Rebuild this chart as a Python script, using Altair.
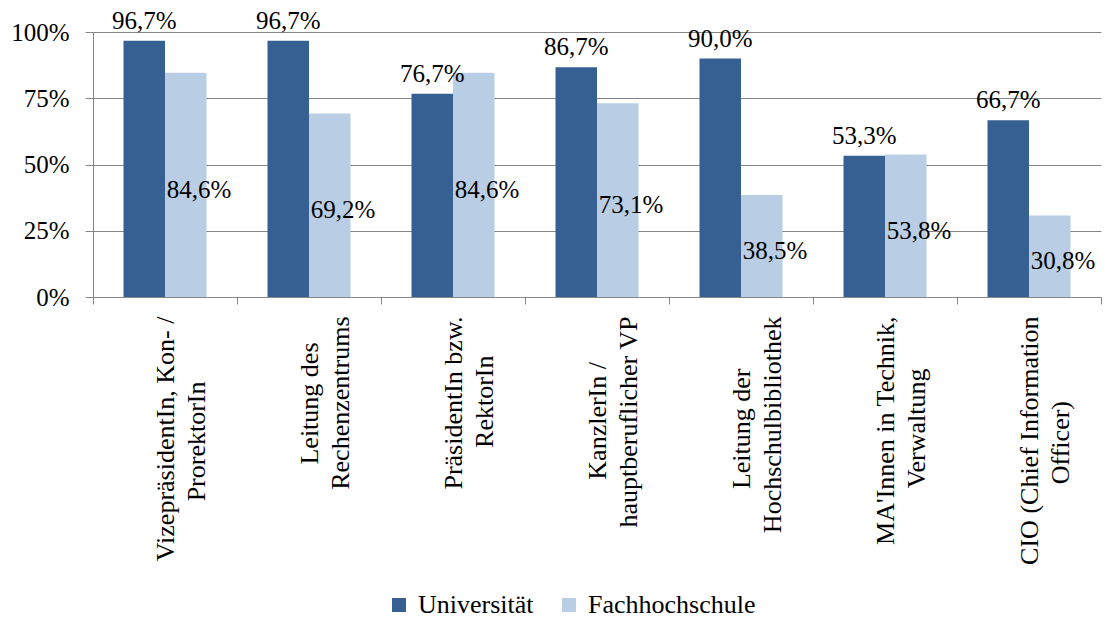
import altair as alt
import pandas as pd

NB = "\u00a0"
ZW = "\u200b"  # keeps the trailing non-breaking spaces from being trimmed
FONT = "Liberation Serif"

label_line1 = ["VizepräsidentIn, Kon- /", "Leitung des", "PräsidentIn bzw.", "KanzlerIn /",
               "Leitung der", "MA'Innen in Technik,", "CIO (Chief Information"]
label_line2 = ["ProrektorIn", "Rechenzentrums", "RektorIn", "hauptberuflicher VP",
               "Hochschulbibliothek", "Verwaltung", "Officer)"]
# non-breaking spaces so that the shorter line sits centred under the longer one
pad_line1 = [0, 4, 0, 7, 8, 0, 0]
pad_line2 = [10, 0, 6, 0, 0, 8, 13]

series = ["Universität", "Fachhochschule"]
universitaet = [96.7, 96.7, 76.7, 86.7, 90.0, 53.3, 66.7]
fachhochschule = [84.6, 69.2, 84.6, 73.1, 38.5, 53.8, 30.8]
colors = ["#376092", "#B9CDE5"]


def padded(text, n):
    return text + (NB * n + ZW if n else "")


categories = [padded(a, p1) + "\n" + padded(b, p2)
              for a, b, p1, p2 in zip(label_line1, label_line2, pad_line1, pad_line2)]

rows = []
for s, vals in zip(series, [universitaet, fachhochschule]):
    for c, v in zip(categories, vals):
        rows.append({"cat": c, "series": s, "value": v / 100, "half": v / 200,
                     "label": f"{v:.1f}".replace(".", ",") + "%"})
df = pd.DataFrame(rows)

grey = "#868686"

x_enc = alt.X("cat:N", sort=categories, title=None,
              scale=alt.Scale(paddingInner=0, paddingOuter=0),
              axis=alt.Axis(labelAngle=-90, labelAlign="right", labelBaseline="middle",
                            labelFontSize=26, labelLineHeight=31, labelLimit=1000,
                            labelPadding=12, labelExpr="split(datum.label, '\\n')",
                            tickBand="extent", tickSize=7, tickColor=grey, domainColor=grey,
                            labelFont=FONT, labelColor="black"))
xo_enc = alt.XOffset("series:N", sort=series,
                     scale=alt.Scale(domain=series, paddingOuter=0.735, paddingInner=0))
y_axis = alt.Axis(values=[0, 0.25, 0.5, 0.75, 1], format=".0%", title=None,
                  labelFontSize=25, labelFont=FONT, labelColor="black", labelPadding=16,
                  tickSize=8, tickColor=grey, domainColor=grey, gridColor=grey)

base = alt.Chart(df)

bars = base.mark_bar().encode(
    x=x_enc, xOffset=xo_enc,
    y=alt.Y("value:Q", scale=alt.Scale(domain=[0, 1]), axis=y_axis),
    color=alt.Color("series:N", sort=series,
                    scale=alt.Scale(domain=series, range=colors),
                    legend=alt.Legend(orient="none", direction="horizontal", legendX=293,
                                      legendY=560, title=None, symbolType="square",
                                      symbolSize=196, symbolStrokeWidth=0,
                                      labelFontSize=26, labelFont=FONT, labelColor="black",
                                      labelOffset=6, columnPadding=22, labelLimit=500)),
)

text_uni = base.transform_filter(alt.datum.series == series[0]).mark_text(
    font=FONT, fontSize=25, baseline="bottom", align="center", dy=-7, color="black"
).encode(x=x_enc, xOffset=xo_enc, y=alt.Y("value:Q"), text="label:N")

text_fh = base.transform_filter(alt.datum.series == series[1]).mark_text(
    font=FONT, fontSize=25, baseline="middle", align="left", dx=-19, dy=5, color="black"
).encode(x=x_enc, xOffset=xo_enc, y=alt.Y("half:Q"), text="label:N")

chart = alt.layer(bars, text_uni, text_fh).properties(
    width=1008, height=265,
    padding={"left": 2, "top": 0, "right": 2, "bottom": 0},
).configure(font=FONT).configure_view(strokeWidth=0)

chart.save("out.html", embed_options={"renderer": "svg", "actions": False})
